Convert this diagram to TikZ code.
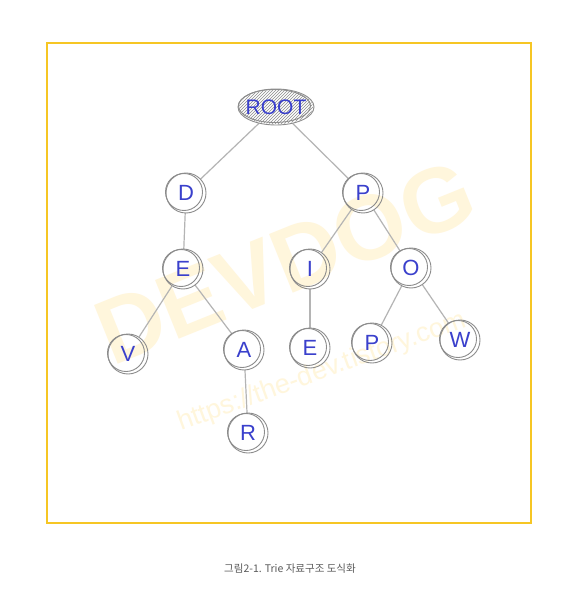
\documentclass[tikz,border=0pt]{standalone}
\usepackage{fontspec}
\setmainfont{Liberation Sans}
\newfontfamily\krfont{Noto Sans CJK KR}
\usetikzlibrary{patterns,shapes.geometric}
\definecolor{frameY}{HTML}{F6C624}
\definecolor{letterB}{HTML}{3A40CC}
\definecolor{sketch}{HTML}{8C8C8C}
\definecolor{edgegray}{HTML}{B4B4B4}
\definecolor{wmark}{HTML}{FFF6DC}
\definecolor{capgray}{HTML}{5A5A5A}
\tikzset{
  trienode/.style={circle, minimum size=40pt, inner sep=0pt, text=letterB, font=\fontsize{22}{22}\selectfont},
  sketchring/.style={draw=sketch, line width=0.9pt},
  edge/.style={draw=edgegray, line width=1.2pt},
}
\begin{document}
\begin{tikzpicture}[x=1pt,y=-1pt]
\useasboundingbox (0,0) rectangle (583,609);
\fill[white] (0,0) rectangle (583,609);
% watermark
\node[rotate=22, text=wmark, font=\bfseries\fontsize{92}{92}\selectfont] (wm1) at (285,262) {DEVDOG};
\node[rotate=20, text=wmark, font=\fontsize{27}{27}\selectfont] (wm2) at (322,372) {https://the-dev.tistory.com};
% frame
\draw[frameY, line width=2pt] (47,43) rectangle (531,523);
% nodes
\node[ellipse, minimum width=76pt, minimum height=36pt, inner sep=0pt] (root) at (276,107) {};
\node[trienode] (d) at (186,193) {D};
\node[trienode] (p) at (363,193) {P};
\node[trienode] (e) at (183,269) {E};
\node[trienode] (i) at (310,269) {I};
\node[trienode] (o) at (411,268) {O};
\node[trienode] (v) at (128,354) {V};
\node[trienode] (a) at (244,350) {A};
\node[trienode] (e2) at (310,348) {E};
\node[trienode] (p2) at (372,343) {P};
\node[trienode] (w) at (460,340) {W};
\node[trienode] (r) at (248,433) {R};
% edges
\draw[edge] (root) -- (d);
\draw[edge] (root) -- (p);
\draw[edge] (d) -- (e);
\draw[edge] (e) -- (v);
\draw[edge] (e) -- (a);
\draw[edge] (a) -- (r);
\draw[edge] (p) -- (i);
\draw[edge] (p) -- (o);
\draw[edge] (i) -- (e2);
\draw[edge] (o) -- (p2);
\draw[edge] (o) -- (w);
% root ellipse sketch
\fill[white] (root.center) ellipse (38 and 18);
\fill[pattern=north east lines, pattern color=sketch] (root.center) ellipse (37 and 17);
\draw[sketchring] (root.center) ellipse (38 and 18);
\draw[sketchring] ([xshift=-1.5pt,yshift=1pt]root.center) ellipse (36 and 16.5);
\node[text=letterB, font=\fontsize{21}{21}\selectfont] (roottxt) at (root.center) {ROOT};
% sketch rings
\foreach \n in {d,p,e,i,o,v,a,e2,p2,w,r}{
  \draw[sketchring] (\n.center) circle (20);
  \draw[sketchring] ([xshift=-2pt,yshift=1pt]\n.center) circle (18.5);
}
% caption
\node[text=capgray, font=\krfont\fontsize{10.5}{12}\selectfont] (cap) at (290,569) {그림2-1. Trie 자료구조 도식화};
\end{tikzpicture}
\end{document}
